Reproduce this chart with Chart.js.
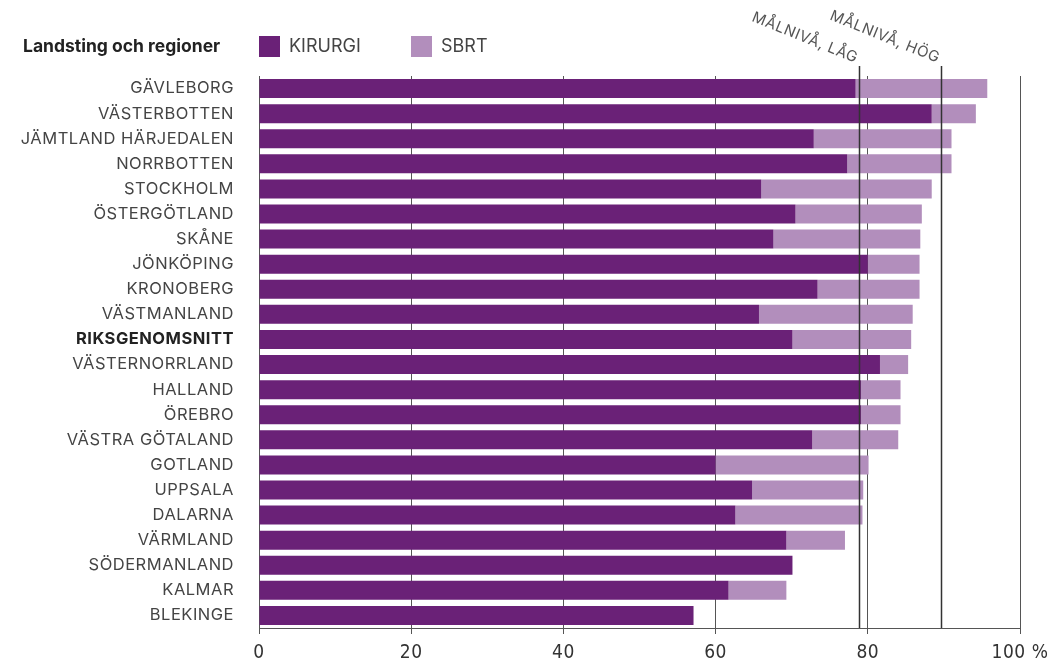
<!DOCTYPE html>
<html>
<head>
<meta charset="utf-8">
<script src="https://cdn.jsdelivr.net/npm/chart.js@4"></script>
<style>
  body { margin: 0; background: #fff; }
</style>
</head>
<body>
<canvas id="chart" width="1058" height="666"></canvas>
<script>
const regions = [
  "GÄVLEBORG", "VÄSTERBOTTEN", "JÄMTLAND HÄRJEDALEN", "NORRBOTTEN", "STOCKHOLM",
  "ÖSTERGÖTLAND", "SKÅNE", "JÖNKÖPING", "KRONOBERG", "VÄSTMANLAND",
  "RIKSGENOMSNITT", "VÄSTERNORRLAND", "HALLAND", "ÖREBRO", "VÄSTRA GÖTALAND",
  "GOTLAND", "UPPSALA", "DALARNA", "VÄRMLAND", "SÖDERMANLAND", "KALMAR", "BLEKINGE"
];
const kirurgi = [78.4, 88.4, 72.9, 77.3, 66.0, 70.5, 67.6, 80.0, 73.4, 65.7,
  70.1, 81.6, 79.1, 79.1, 72.7, 60.0, 64.8, 62.6, 69.3, 70.1, 61.7, 57.1];
const sbrt = [17.3, 5.8, 18.1, 13.7, 22.4, 16.6, 19.3, 6.8, 13.4, 20.2,
  15.6, 3.7, 5.2, 5.2, 11.3, 20.1, 14.6, 16.7, 7.7, 0, 7.6, 0];
const xTicks = [0, 20, 40, 60, 80, 100];
const targetLabels = ["MÅLNIVÅ, LÅG", "MÅLNIVÅ, HÖG"];
const targetValues = [78.8, 89.6];

const KIR_COLOR = "#6a2177";
const SBRT_COLOR = "#b28ebc";
const TEXT = "#444";
const FONT = "Inter, Roboto, 'Noto Sans', sans-serif";

// header, legend and target lines
const extras = {
  id: "extras",
  beforeDraw(chart) {
    chart.ctx.letterSpacing = "0.5px";
  },
  afterDatasetsDraw(chart) {
    const { ctx, chartArea, scales } = chart;
    ctx.save();
    targetValues.forEach((v, i) => {
      const x = Math.round(scales.x.getPixelForValue(v)) + 0.5;
      ctx.strokeStyle = "#333";
      ctx.lineWidth = 1.5;
      ctx.beginPath();
      ctx.moveTo(x, 66);
      ctx.lineTo(x, chartArea.bottom);
      ctx.stroke();

      ctx.save();
      ctx.translate(x - 4, 63);
      ctx.rotate(22 * Math.PI / 180);
      ctx.fillStyle = "#555";
      ctx.font = "15px " + FONT;
      ctx.letterSpacing = "0.6px";
      ctx.textAlign = "right";
      ctx.textBaseline = "alphabetic";
      ctx.fillText(targetLabels[i], 0, 0);
      ctx.restore();
    });
    ctx.restore();
  },
  afterDraw(chart) {
    const { ctx } = chart;
    ctx.save();
    ctx.letterSpacing = "0px";
    ctx.fillStyle = "#222";
    ctx.font = "bold 17.5px " + FONT;
    ctx.textBaseline = "middle";
    ctx.fillText("Landsting och regioner", 23, 47);

    const legendX = [259, 411];
    chart.data.datasets.forEach((ds, i) => {
      ctx.fillStyle = ds.backgroundColor;
      ctx.fillRect(legendX[i], 36, 21, 21);
      ctx.fillStyle = TEXT;
      ctx.font = "18px " + FONT;
      ctx.fillText(ds.label, legendX[i] + 30, 47);
    });
    ctx.restore();
  }
};

new Chart(document.getElementById("chart"), {
  type: "bar",
  data: {
    labels: regions,
    datasets: [
      { label: "KIRURGI", data: kirurgi, backgroundColor: KIR_COLOR },
      { label: "SBRT", data: sbrt, backgroundColor: SBRT_COLOR }
    ]
  },
  options: {
    indexAxis: "y",
    responsive: false,
    animation: false,
    barPercentage: 0.757,
    categoryPercentage: 1,
    layout: { padding: { top: 76, right: 38, left: 0, bottom: 0 } },
    plugins: {
      legend: { display: false },
      tooltip: { enabled: false }
    },
    scales: {
      x: {
        stacked: true,
        min: 0,
        max: 100,
        afterBuildTicks: (scale) => { scale.ticks = xTicks.map(v => ({ value: v })); },
        afterFit: (scale) => { scale.height = 38; },
        grid: { color: "#555", lineWidth: 1, tickLength: 6 },
        border: { color: "#555" },
        ticks: {
          padding: 8,
          color: "#333",
          font: { family: "'Liberation Sans Narrow', 'DejaVu Sans Condensed', sans-serif", size: 19 },
          callback: (v) => v === 100 ? "100 %" : v
        }
      },
      y: {
        stacked: true,
        afterFit: (scale) => { scale.width = 259; },
        grid: { display: false, drawTicks: false },
        border: { display: false },
        ticks: {
          padding: 25,
          color: (c) => c.index === 10 ? "#222" : TEXT,
          font: (c) => ({ family: FONT, size: 16.5, weight: c.index === 10 ? "bold" : "normal" })
        }
      }
    }
  },
  plugins: [extras]
});
</script>
</body>
</html>
